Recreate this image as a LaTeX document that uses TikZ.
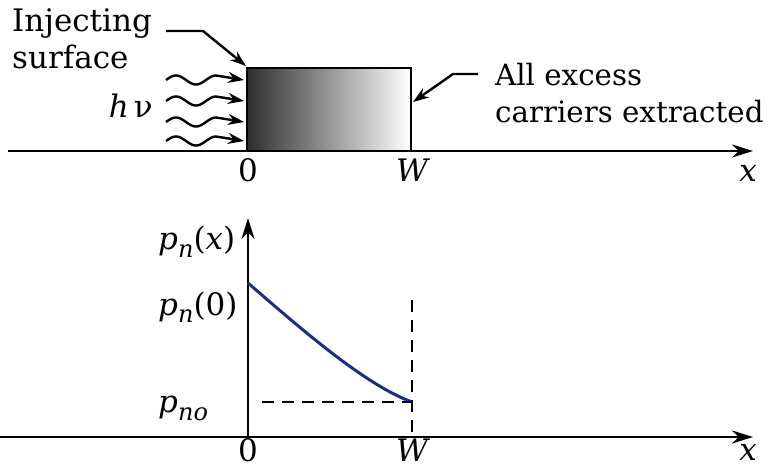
\documentclass[tikz,border=0pt]{standalone}
\usepackage{fontspec}
\setmainfont{DejaVu Serif}
\usetikzlibrary{arrows.meta}
\definecolor{curveblue}{RGB}{28,45,135}
\newcommand{\subn}[1]{\raisebox{-8pt}{\fontsize{24}{24}\selectfont\textit{#1}}}
\begin{document}
\begin{tikzpicture}[x=1pt,y=-1pt,
  txt/.style={font=\fontsize{31}{36}\selectfont, inner sep=0pt},
  txtr/.style={font=\fontsize{29.3}{34}\selectfont, inner sep=0pt},
  thick2/.style={line width=2.4pt},
  arr/.style={line width=2.4pt, -{Stealth[length=16pt,width=11pt]}},
  axisarr/.style={line width=2.4pt, -{Stealth[length=21pt,width=13pt]}},
  dsh/.style={line width=2.2pt, dash pattern=on 12pt off 8pt},
]
\useasboundingbox (0,0) rectangle (772,468);

% ---------- top figure ----------
\coordinate (rbl) at (247,151);
\coordinate (rtr) at (411,68);
\shade[left color=black!82, right color=white] (rbl) rectangle (rtr);
\draw[thick2] (rbl) rectangle (rtr);

\coordinate (ax0) at (8,151);
\coordinate (ax1) at (753,151);
\draw[axisarr] (ax0) -- (ax1);

\node[txt, anchor=base west] (inj) at (12,32) {Injecting};
\node[txt, anchor=base west] (surf) at (12,69) {surface};
\coordinate (ia) at (166,31);
\coordinate (ib) at (203,31);
\coordinate (itip) at (246,66);
\draw[arr] (ia) -- (ib) -- (itip);

\node[txtr, anchor=base west] (all) at (495,86) {All excess};
\node[txtr, anchor=base west] (carr) at (495,123) {carriers extracted};
\coordinate (ea) at (478,74);
\coordinate (eb) at (453,74);
\coordinate (etip) at (413,102);
\draw[arr] (ea) -- (eb) -- (etip);

\node[txt, anchor=base east] (hnu) at (153,118) {\textit{h}\,ν};

\foreach \yy in {80,101,122,141}{
  \coordinate (wt) at (244,\yy);
  \draw[arr] plot[domain=0:50, samples=41, smooth] ({166+\x},{\yy-4.5*sin(9*\x)}) -- (wt);
}

\node[txt, anchor=base] (z1) at (248,182) {0};
\node[txt, anchor=base] (w1) at (413,182) {\textit{W}};
\node[txt, anchor=base] (x1) at (748,182) {\textit{x}};

% ---------- bottom figure ----------
\coordinate (bx0) at (0,437);
\coordinate (bx1) at (753,437);
\draw[axisarr] (bx0) -- (bx1);
\coordinate (vy0) at (248,437);
\coordinate (vy1) at (248,218);
\draw[axisarr] (vy0) -- (vy1);

\coordinate (c0) at (248,283);
\coordinate (c1) at (412,402);
\draw[curveblue, line width=3pt] (c0) .. controls (300,328) and (365,385) .. (c1);

\coordinate (dv0) at (412,300);
\coordinate (dv1) at (412,437);
\draw[dsh] (dv0) -- (dv1);
\coordinate (dh0) at (262,402);
\draw[dsh] (dh0) -- (c1);

\node[txt, anchor=base west] (pnx) at (158,250) {\textit{p}\subn{n}(\textit{x})};
\node[txt, anchor=base west] (pn0) at (158,315) {\textit{p}\subn{n}(0)};
\node[txt, anchor=base west] (pno) at (158,412) {\textit{p}\subn{no}};

\node[txt, anchor=base] (z2) at (248,461) {0};
\node[txt, anchor=base] (w2) at (413,461) {\textit{W}};
\node[txt, anchor=base] (x2) at (748,460) {\textit{x}};
\end{tikzpicture}
\end{document}
